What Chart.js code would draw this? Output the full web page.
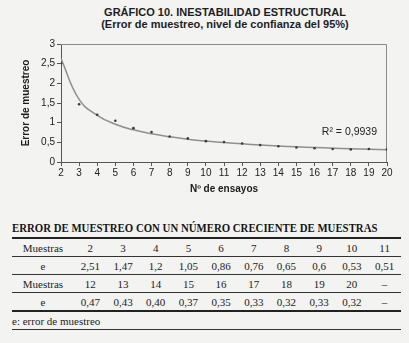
<!DOCTYPE html>
<html>
<head>
<meta charset="utf-8">
<script src="https://cdn.jsdelivr.net/npm/chart.js@4"></script>
<style>
  html, body { margin: 0; padding: 0; }
  body { width: 409px; height: 343px; background: #f3f3f2; position: relative; overflow: hidden; }
  #titulo { position: absolute; left: 85px; top: 7px; width: 280px; text-align: center;
            font: bold 11px "Liberation Sans", Arial, sans-serif; color: #1e1e1e; line-height: 11.5px; }
  #grafico { position: absolute; left: 0; top: 0; }
  #tablaTitulo { position: absolute; left: 12px; top: 221px; white-space: nowrap;
                 font: bold 12px "Liberation Serif", "Times New Roman", serif; color: #161616;
                 transform: scaleX(0.9); transform-origin: left top; }
  table { position: absolute; left: 12px; top: 237px; width: 389px; border-collapse: collapse;
          font: 11px "Liberation Serif", "Times New Roman", serif; color: #222; }
  td { height: 17px; padding: 0; text-align: center; border-bottom: 1px solid #333; }
  tr.primera td { border-top: 2px solid #222; }
  tr.cierre td { border-bottom: 2px solid #222; }
  td.cab { width: 62px; }
  tr.nota td { text-align: left; }
</style>
</head>
<body>
<div id="titulo">GRÁFICO 10. INESTABILIDAD ESTRUCTURAL<br>(Error de muestreo, nivel de confianza del 95%)</div>
<canvas id="grafico" width="409" height="200"></canvas>
<div id="tablaTitulo">ERROR DE MUESTREO CON UN NÚMERO CRECIENTE DE MUESTRAS</div>
<table id="tabla"></table>
<script>
// número de ensayos (muestras) y error de muestreo obtenido en cada uno
var ensayos = [2, 3, 4, 5, 6, 7, 8, 9, 10, 11, 12, 13, 14, 15, 16, 17, 18, 19, 20];
var errorTexto = ['2,51', '1,47', '1,2', '1,05', '0,86', '0,76', '0,65', '0,6', '0,53', '0,51',
                  '0,47', '0,43', '0,40', '0,37', '0,35', '0,33', '0,32', '0,33', '0,32'];
var errores = errorTexto.map(function (s) { return parseFloat(s.replace(',', '.')); });
var r2Texto = 'R\u00b2 = 0,9939';

// linea de tendencia potencial (ajuste por minimos cuadrados sobre el indice del punto, como Excel)
function tendenciaPotencial(ys) {
    var n = ys.length, sx = 0, sy = 0, sxx = 0, sxy = 0;
    ys.forEach(function (y, i) {
        var lx = Math.log(i + 1), ly = Math.log(y);
        sx += lx; sy += ly; sxx += lx * lx; sxy += lx * ly;
    });
    var b = (n * sxy - sx * sy) / (n * sxx - sx * sx);
    var a = Math.exp((sy - b * sx) / n);
    return ys.map(function (y, i) { return a * Math.pow(i + 1, b); });
}
var tendencia = tendenciaPotencial(errores);

// tabla: dos bloques de filas Muestras / e
var tabla = document.getElementById('tabla');
function fila(celdas, clase) {
    var tr = document.createElement('tr');
    if (clase) tr.className = clase;
    celdas.forEach(function (c, i) {
        var td = document.createElement('td');
        td.textContent = c;
        if (i == 0) td.className = 'cab';
        tr.appendChild(td);
    });
    tabla.appendChild(tr);
}
fila(['Muestras'].concat(ensayos.slice(0, 10)), 'primera');
fila(['e'].concat(errorTexto.slice(0, 10)));
fila(['Muestras'].concat(ensayos.slice(10), ['\u2013']));
fila(['e'].concat(errorTexto.slice(10), ['\u2013']), 'cierre');
var nota = document.createElement('tr');
nota.className = 'nota';
nota.innerHTML = '<td colspan="11">e: error de muestreo</td>';
tabla.appendChild(nota);

// borde gris superior y derecho del area de trazado + etiqueta R2
var marco = {
    id: 'marco',
    beforeDatasetsDraw: function (chart) {
        var c = chart.ctx, a = chart.chartArea;
        c.save();
        c.strokeStyle = '#8a8a8a';
        c.lineWidth = 1;
        c.beginPath();
        c.moveTo(a.left, a.top + 0.5);
        c.lineTo(a.right - 0.5, a.top + 0.5);
        c.lineTo(a.right - 0.5, a.bottom);
        c.stroke();
        c.restore();
    },
    afterDraw: function (chart) {
        var c = chart.ctx, a = chart.chartArea;
        c.save();
        c.font = '10.5px "Liberation Sans", Arial, sans-serif';
        c.fillStyle = '#222';
        c.textAlign = 'right';
        c.textBaseline = 'middle';
        c.fillText(r2Texto, a.right - 10, a.top + 88);
        c.restore();
    }
};

var fuente = { family: '"Liberation Sans", Arial, sans-serif', size: 10 };

var ctx = document.getElementById('grafico').getContext('2d');
var grafico = new Chart(ctx, {
    type: 'line',
    data: {
        labels: ensayos,
        datasets: [
            {
                label: 'Error de muestreo',
                data: ensayos.map(function (x, i) { return { x: x, y: errores[i] }; }),
                showLine: false,
                pointRadius: 1.3,
                pointBackgroundColor: '#3a3a3a',
                pointBorderWidth: 0,
                order: 0
            },
            {
                label: 'Potencial',
                data: ensayos.map(function (x, i) { return { x: x, y: tendencia[i] }; }),
                borderColor: '#8f8f8f',
                borderWidth: 1.5,
                pointRadius: 0,
                tension: 0.45,
                fill: false,
                order: 1
            }
        ]
    },
    options: {
        responsive: false,
        animation: false,
        devicePixelRatio: 1,
        layout: { padding: { top: 44, right: 22, left: 0, bottom: 0 } },
        plugins: {
            legend: { display: false },
            tooltip: { enabled: false }
        },
        scales: {
            x: {
                type: 'linear',
                min: 2,
                max: 20,
                ticks: { stepSize: 1, color: '#222', font: fuente, padding: 1, maxRotation: 0 },
                grid: { drawOnChartArea: false, tickLength: 4, color: '#555' },
                border: { color: '#555' },
                title: {
                    display: true,
                    text: 'N\u00ba de ensayos',
                    color: '#1a1a1a',
                    font: { family: fuente.family, size: 10, weight: 'bold' },
                    padding: { top: 0, bottom: 5 }
                },
                afterFit: function (s) { s.height = 38; }
            },
            y: {
                min: 0,
                max: 3,
                ticks: {
                    stepSize: 0.5,
                    color: '#222',
                    font: fuente,
                    padding: 2,
                    callback: function (v) { return String(v).replace('.', ','); }
                },
                grid: { drawOnChartArea: false, tickLength: 4, color: '#555' },
                border: { color: '#555' },
                title: {
                    display: true,
                    text: 'Error de muestreo',
                    color: '#1a1a1a',
                    font: { family: fuente.family, size: 10, weight: 'bold' },
                    padding: { top: 20, bottom: 0 }
                },
                afterFit: function (s) { s.width = 61; }
            }
        }
    },
    plugins: [marco]
});
</script>
</body>
</html>
